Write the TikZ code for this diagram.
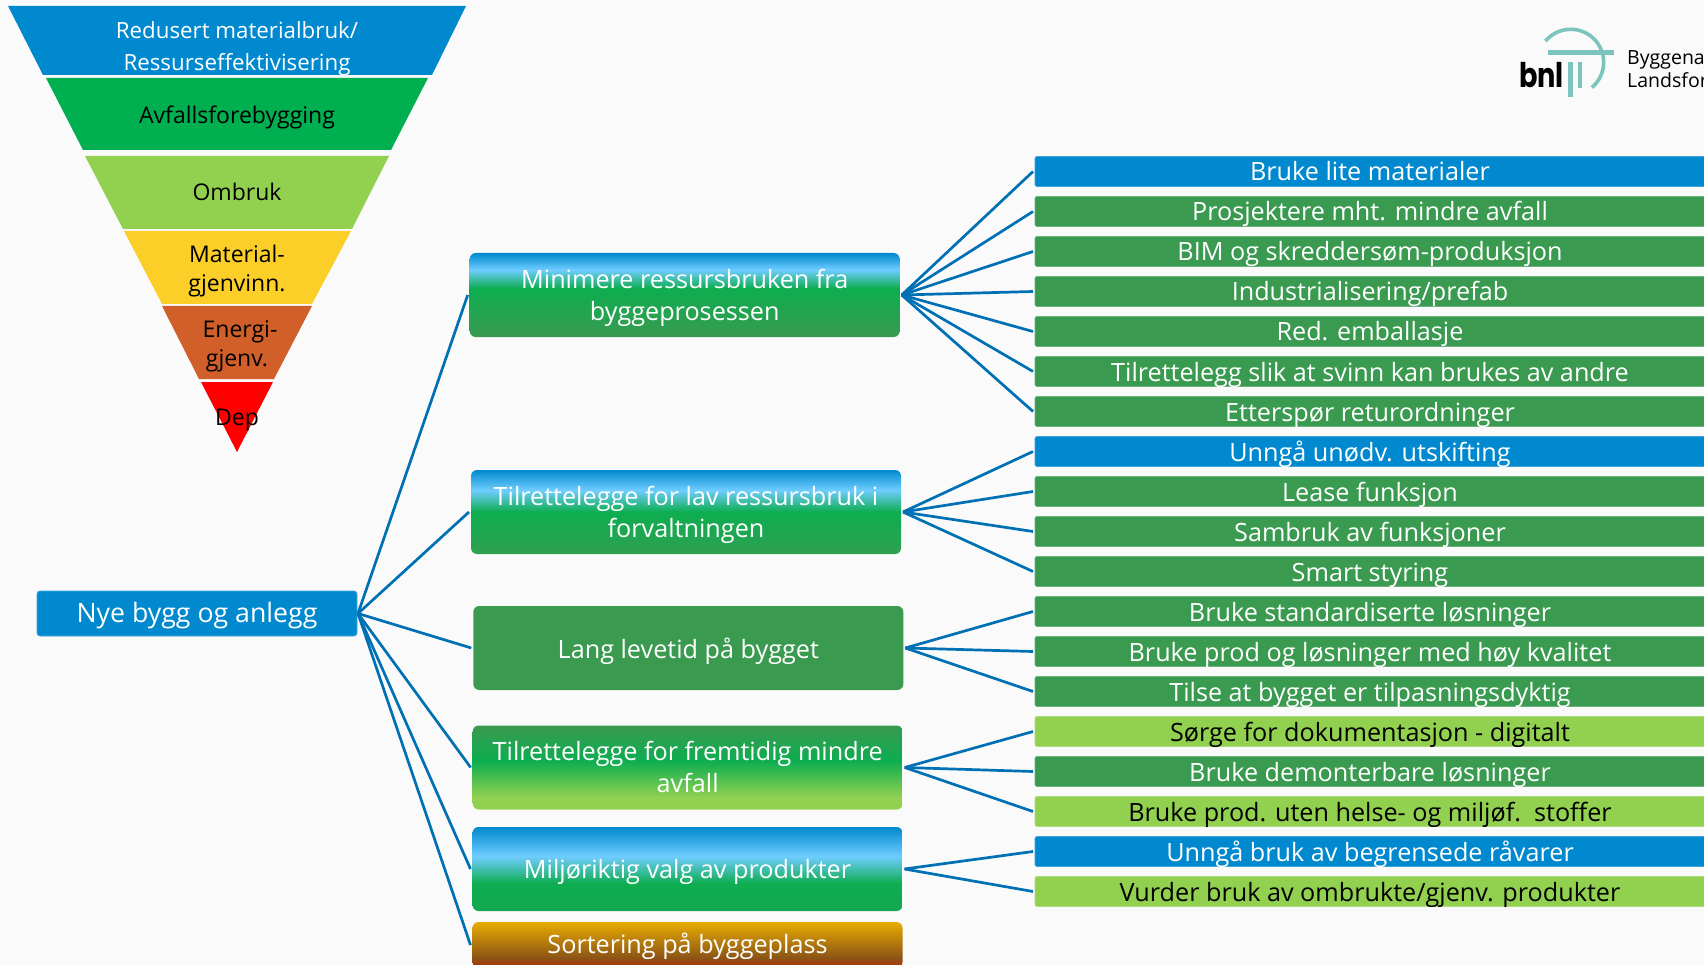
\documentclass[tikz,border=0pt]{standalone}
\usepackage{fontspec}
\setmainfont{Open Sans}
\newfontfamily\logofont{Poppins}
\definecolor{bgc}{HTML}{FAFAFA}
\definecolor{blu}{HTML}{0089CE}
\definecolor{grn}{HTML}{399A50}
\definecolor{vgrn}{HTML}{00AF50}
\definecolor{lgrn}{HTML}{92D150}
\definecolor{yel}{HTML}{FBCF28}
\definecolor{org}{HTML}{D05F2A}
\definecolor{lnk}{HTML}{0070B4}
\definecolor{logoteal}{HTML}{7CC4BE}
\definecolor{skyb}{HTML}{6FCDFF}
\definecolor{midg}{HTML}{0DAD50}
\definecolor{botb}{HTML}{2FA050}
\definecolor{botc}{HTML}{14A850}
\pgfdeclareverticalshading{bluegreen}{100bp}{color(0bp)=(grn);color(25bp)=(grn);color(54bp)=(midg);color(65bp)=(skyb);color(75bp)=(blu);color(100bp)=(blu)}
\pgfdeclareverticalshading{bluegreenb}{100bp}{color(0bp)=(botb);color(25bp)=(botb);color(50bp)=(midg);color(63bp)=(skyb);color(75bp)=(blu);color(100bp)=(blu)}
\pgfdeclareverticalshading{bluegreenc}{100bp}{color(0bp)=(botc);color(25bp)=(botc);color(41.5bp)=(midg);color(57.5bp)=(skyb);color(75bp)=(blu);color(100bp)=(blu)}
\pgfdeclareverticalshading{greenlime}{100bp}{color(0bp)=(lgrn);color(32bp)=(lgrn);color(54bp)=(midg);color(75bp)=(grn);color(100bp)=(grn)}
\definecolor{gold}{HTML}{E8AC00}
\definecolor{brn}{HTML}{8C5416}
\definecolor{rust}{HTML}{A83A08}
\pgfdeclareverticalshading{goldbrown}{100bp}{color(0bp)=(rust);color(28bp)=(rust);color(36bp)=(brn);color(75bp)=(gold);color(100bp)=(gold)}
\tikzset{
  x=1pt,y=-1pt,
  lnkline/.style={draw=lnk,line width=2.7pt},
  bandtxt/.style={inner sep=0pt,align=center,text depth=5pt,font=\fontsize{23}{31}\selectfont},
  midbox/.style={rectangle,rounded corners=6pt,minimum width=430pt,minimum height=84pt,inner sep=0pt,outer sep=2pt,align=center,text=white,text depth=5pt,font=\fontsize{25.2}{32}\selectfont},
  barbox/.style={rectangle,rounded corners=1.5pt,minimum width=670pt,minimum height=30pt,inner sep=0pt,outer sep=2pt,text=white,fill=#1,draw=#1!75!white,line width=0.7pt,text height=24pt,text depth=5pt,font=\fontsize{25.2}{30}\selectfont},
  darkbar/.style={barbox=lgrn,text=black},
}
\begin{document}
\begin{tikzpicture}
\clip (0,0) rectangle (1704,965);
\fill[bgc] (0,0) rectangle (1704,965);
% pyramid
\fill[blu] (8,6)--(466,6)--(432,75)--(43,75)--cycle;
\fill[vgrn] (46,78)--(428,78)--(391,150)--(83,150)--cycle;
\fill[lgrn] (85,156)--(389,156)--(352,229)--(123,229)--cycle;
\fill[yel] (124,231)--(351,231)--(312,304)--(162,304)--cycle;
\fill[org] (162,306)--(312,306)--(274,379)--(199,379)--cycle;
\fill[red] (201,382)--(273,382)--(237,452)--cycle;
\node[bandtxt,text=white,text height=53pt,font=\fontsize{22.3}{32}\selectfont] (p1) at (237,47) {Redusert materialbruk/\\Ressurseffektivisering};
\node[bandtxt,text height=23.6pt] (p2) at (237,114) {Avfallsforebygging};
\node[bandtxt,text height=23pt] (p3) at (237,192) {Ombruk};
\node[bandtxt,text height=52.4pt,font=\fontsize{23}{29.4}\selectfont] (p4) at (237,268) {Material-\\gjenvinn.};
\node[bandtxt,text height=52.4pt,font=\fontsize{23}{29.4}\selectfont] (p5) at (237,343) {\hspace*{6pt}Energi-\\gjenv.};
\node[bandtxt,text height=19.6pt] (p6) at (237,418) {Dep};
% root
\node[rectangle,rounded corners=3pt,fill=blu,draw=blu!75!white,line width=0.7pt,text=white,minimum width=320pt,minimum height=45pt,inner sep=0pt,outer sep=1pt,text height=22.6pt,text depth=5pt,font=\fontsize{26.7}{30}\selectfont] (root) at (197,613.5) {Nye bygg og anlegg};
% middle boxes
\node[midbox,shading=bluegreen,text height=56.4pt] (m1) at (684.7,295) {Minimere ressursbruken fra\\byggeprosessen};
\node[midbox,shading=bluegreenb,text height=55pt] (m2) at (686,512) {Tilrettelegge for lav ressursbruk i\\forvaltningen};
\node[midbox,fill=grn,text height=25pt] (m3) at (688.3,648) {Lang levetid på bygget};
\node[midbox,shading=greenlime,text height=55pt] (m4) at (687.7,767.5) {Tilrettelegge for fremtidig mindre\\avfall};
\node[midbox,shading=bluegreenc,text height=23pt] (m5) at (687.5,869) {Miljøriktig valg av produkter};
\node[midbox,shading=goldbrown,minimum height=46pt,text height=21pt] (m6) at (687.5,945) {Sortering på byggeplass};
% bars
\node[barbox=blu] (b1) at (1370,171.5) {Bruke lite materialer};
\node[barbox=grn] (b2) at (1370,211.5) {Prosjektere mht. mindre avfall};
\node[barbox=grn] (b3) at (1370,251.5) {BIM og skreddersøm-produksjon};
\node[barbox=grn] (b4) at (1370,291.5) {Industrialisering/prefab};
\node[barbox=grn] (b5) at (1370,331.5) {Red. emballasje};
\node[barbox=grn] (b6) at (1370,371.5) {Tilrettelegg slik at svinn kan brukes av andre};
\node[barbox=grn] (b7) at (1370,411.5) {Etterspør returordninger};
\node[barbox=blu] (b8) at (1370,451.5) {Unngå unødv. utskifting};
\node[barbox=grn] (b9) at (1370,491.5) {Lease funksjon};
\node[barbox=grn] (b10) at (1370,531.5) {Sambruk av funksjoner};
\node[barbox=grn] (b11) at (1370,571.5) {Smart styring};
\node[barbox=grn] (b12) at (1370,611.5) {Bruke standardiserte løsninger};
\node[barbox=grn] (b13) at (1370,651.5) {Bruke prod og løsninger med høy kvalitet};
\node[barbox=grn] (b14) at (1370,691.5) {Tilse at bygget er tilpasningsdyktig};
\node[darkbar] (b15) at (1370,731.5) {Sørge for dokumentasjon - digitalt};
\node[barbox=grn] (b16) at (1370,771.5) {Bruke demonterbare løsninger};
\node[darkbar] (b17) at (1370,811.5) {Bruke prod. uten helse- og miljøf.\ \ stoffer};
\node[barbox=blu] (b18) at (1370,851.5) {Unngå bruk av begrensede råvarer};
\node[darkbar] (b19) at (1370,891.5) {Vurder bruk av ombrukte/gjenv. produkter};
% connectors
\foreach \m in {m1,m2,m3,m4,m5,m6} \draw[lnkline] (root.east)--(\m.west);
\foreach \b in {b1,b2,b3,b4,b5,b6,b7} \draw[lnkline] (m1.east)--(\b.west);
\foreach \b in {b8,b9,b10,b11} \draw[lnkline] (m2.east)--(\b.west);
\foreach \b in {b12,b13,b14} \draw[lnkline] (m3.east)--(\b.west);
\foreach \b in {b15,b16,b17} \draw[lnkline] (m4.east)--(\b.west);
\foreach \b in {b18,b19} \draw[lnkline] (m5.east)--(\b.west);
% logo
\coordinate (lc) at (1570.7,62.3);
\draw[logoteal,line width=3.6pt] ([shift={(140:33pt)}]lc) arc[start angle=140,end angle=-50,radius=33pt];
\draw[logoteal,line width=4.6pt] (1548,52.3)--(1614,52.3);
\draw[logoteal,line width=4.2pt] (1570.5,62)--(1570.5,97);
\draw[logoteal,line width=3.6pt] (1580,62)--(1580,88);
\node[inner sep=0pt,anchor=base west,xscale=0.8,font=\logofont\bfseries\fontsize{34}{36}\selectfont] (lg) at (1519,88) {bnl};
\node[inner sep=0pt,anchor=base west,font=\fontsize{19.5}{22}\selectfont] (lt1) at (1627,65) {Byggena};
\node[inner sep=0pt,anchor=base west,font=\fontsize{19.5}{22}\selectfont] (lt2) at (1627,88) {Landsfor};
\end{tikzpicture}
\end{document}
